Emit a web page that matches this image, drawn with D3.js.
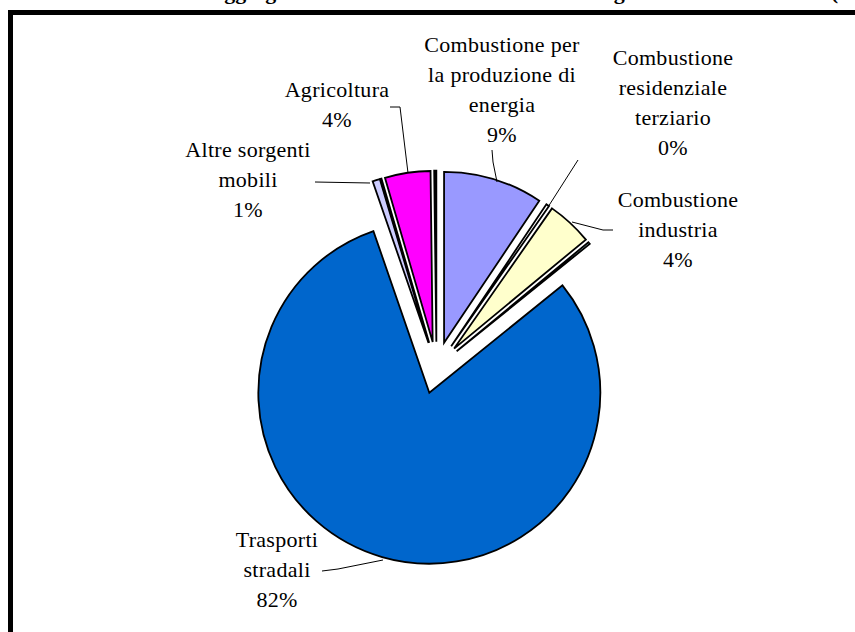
<!DOCTYPE html>
<html>
<head>
<meta charset="utf-8">
<script src="https://cdn.jsdelivr.net/npm/d3@7"></script>
<style>
  body { margin: 0; background: #fff; }
  svg { display: block; }
  text { font-family: "Liberation Serif", "Times New Roman", serif; fill: #000; }
</style>
</head>
<body>
<div id="chart-area"></div>
<script>
const width = 855, height = 632;

// slices, clockwise from 12 o'clock
const sectors = ["Combustione per la produzione di energia", "Combustione residenziale terziario",
  "Combustione industria", "Processi produttivi", "Trasporti stradali", "Altre sorgenti mobili",
  "Trattamento e smaltimento rifiuti", "Agricoltura", "Altre sorgenti e assorbimenti"];
const shares = [9.4, 0.3, 4.3, 0.2, 80.5, 0.7, 0.1, 4.3, 0.2];
const colors = ["#9999ff", "#ffffff", "#ffffcc", "#ccffff", "#0066cc", "#ccccff", "#ffffff", "#ff00ff", "#000000"];

// labels shown on the chart
const labelLines = [
  ["Combustione per", "la produzione di", "energia", "9%"],
  ["Combustione", "residenziale", "terziario", "0%"],
  ["Combustione", "industria", "4%"],
  ["Trasporti", "stradali", "82%"],
  ["Altre sorgenti", "mobili", "1%"],
  ["Agricoltura", "4%"]
];
const labelPos = [[502, 52], [673, 65], [678, 207], [277, 547], [248, 157], [337, 97]];
const leaders = [
  [[492, 150], [493, 162], [497, 182]],
  [[578, 160], [548, 207]],
  [[613, 230], [603, 230], [572, 222]],
  [[322, 571], [338, 569], [383, 560]],
  [[315, 182], [370, 183]],
  [[390, 107], [400, 107], [408, 173]]
];

const cx = 436.5, cy = 367.7, radius = 171, explode = 26;

const svg = d3.select('#chart-area').append('svg')
  .attr('width', width)
  .attr('height', height);

// title, cut off by the top of the picture
svg.append('text')
  .attr('x', 116).attr('y', -1.5)
  .style('font-size', '22px').style('font-weight', 'bold')
  .text("Emissioni aggregate di sostanze climalteranti nella regione Lombardia 2005 (kt)");

// frame
svg.append('rect')
  .attr('x', 10.5).attr('y', 12.5)
  .attr('width', width + 20).attr('height', height + 20)
  .attr('fill', 'none').attr('stroke', '#000').attr('stroke-width', 5);

const pie = d3.pie().sort(null).value(d => d);
const arc = d3.arc().innerRadius(0).outerRadius(radius);

const g = svg.append('g').attr('transform', `translate(${cx}, ${cy})`);

g.selectAll('path').data(pie(shares)).enter().append('path')
  .attr('d', arc)
  .attr('transform', d => {
    const a = (d.startAngle + d.endAngle) / 2;
    return `translate(${explode * Math.sin(a)}, ${-explode * Math.cos(a)})`;
  })
  .attr('fill', (d, i) => colors[i])
  .attr('stroke', '#000')
  .attr('stroke-width', 1.8)
  .attr('stroke-linejoin', 'miter');

// leader lines
const line = d3.line();
svg.selectAll('.leader').data(leaders).enter().append('path')
  .attr('class', 'leader')
  .attr('d', line)
  .attr('fill', 'none')
  .attr('stroke', '#000')
  .attr('stroke-width', 1);

// labels
labelLines.forEach((lines, i) => {
  const t = svg.append('text')
    .attr('text-anchor', 'middle')
    .style('font-size', '22px')
    .style('letter-spacing', '0.3px');
  lines.forEach((s, j) => {
    t.append('tspan')
      .attr('x', labelPos[i][0])
      .attr('y', labelPos[i][1] + j * 30)
      .text(s);
  });
});
</script>
</body>
</html>
